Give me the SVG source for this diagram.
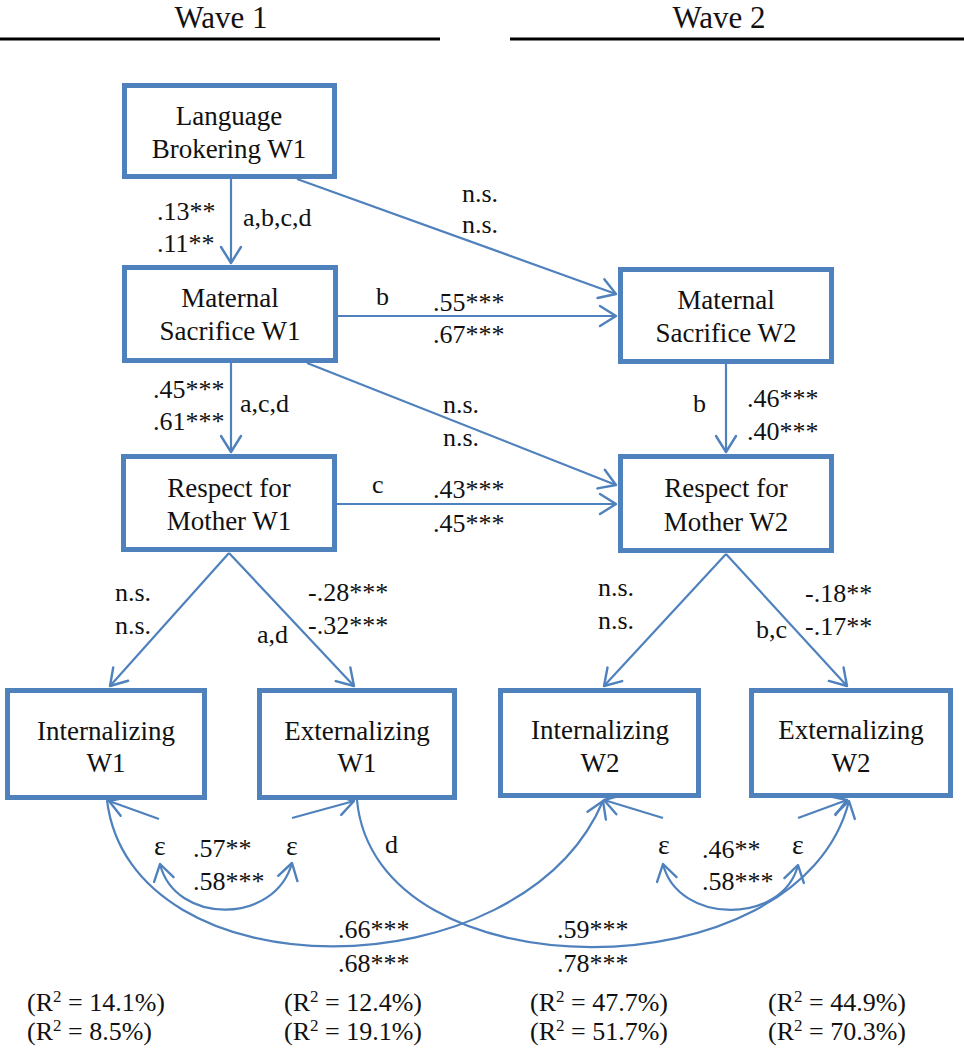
<svg xmlns="http://www.w3.org/2000/svg" width="964" height="1050" viewBox="0 0 964 1050">
<defs>
<marker id="arr" markerUnits="userSpaceOnUse" viewBox="-20 -14 24 28" markerWidth="24" markerHeight="28" refX="0" refY="0" orient="auto-start-reverse" overflow="visible">
<path d="M-16,-10 L0,0 L-16,10" fill="none" stroke="#4F81BD" stroke-width="2.4" stroke-linejoin="round" stroke-linecap="round"/>
</marker>
</defs>
<rect width="964" height="1050" fill="#fff"/>
<g id="header" fill="#111" text-anchor="middle">
<text x="221" y="28" font-size="31" font-family="Liberation Serif">Wave 1</text>
<text x="719" y="28" font-size="31" font-family="Liberation Serif">Wave 2</text>
<line x1="0" y1="39" x2="440" y2="39" stroke="#000" stroke-width="3"/>
<line x1="510" y1="39" x2="964" y2="39" stroke="#000" stroke-width="3"/>
</g>
<g id="connectors" fill="none" stroke="#4F81BD" stroke-width="2.2" marker-end="url(#arr)">
<path d="M231,179 L231,263"/>
<path d="M297,179 L616,294"/>
<path d="M338,316 L616,316"/>
<path d="M307,363 L616,485"/>
<path d="M231,363 L231,452"/>
<path d="M726,364 L726,452"/>
<path d="M337,504 L616,504"/>
<path d="M229,553 L110,686"/>
<path d="M229,553 L354,686"/>
<path d="M726,554 L604,686"/>
<path d="M726,554 L847,686"/>
<path d="M159,819 L109,801"/>
<path d="M292,818 L354,801"/>
<path d="M663,818 L604,800"/>
<path d="M798,818 L847,800"/>
<path d="M107,800 C130,995 520,995 603,801"/>
<path d="M357,800 C375,996 800,996 849,801"/>
<path d="M160,864 C175,925 275,925 292,863" marker-start="url(#arr)"/>
<path d="M663,864 C678,925 783,925 798,865" marker-start="url(#arr)"/>
</g>
<g id="nodes" fill="#111" text-anchor="middle">
<g id="node-lb">
<rect x="124.5" y="85.5" width="210" height="91" fill="#fff" stroke="#4F81BD" stroke-width="5"/>
<text x="229" y="125" font-size="27" font-family="Liberation Serif">Language</text>
<text x="229" y="158" font-size="27" font-family="Liberation Serif">Brokering W1</text>
</g>
<g id="node-ms1">
<rect x="124.5" y="267.5" width="211" height="93" fill="#fff" stroke="#4F81BD" stroke-width="5"/>
<text x="230" y="307" font-size="27" font-family="Liberation Serif">Maternal</text>
<text x="230" y="340" font-size="27" font-family="Liberation Serif">Sacrifice W1</text>
</g>
<g id="node-rm1">
<rect x="123.5" y="456.5" width="211" height="93" fill="#fff" stroke="#4F81BD" stroke-width="5"/>
<text x="229" y="497" font-size="27" font-family="Liberation Serif">Respect for</text>
<text x="229" y="530" font-size="27" font-family="Liberation Serif">Mother W1</text>
</g>
<g id="node-ms2">
<rect x="620.5" y="269.5" width="211" height="92" fill="#fff" stroke="#4F81BD" stroke-width="5"/>
<text x="726" y="309" font-size="27" font-family="Liberation Serif">Maternal</text>
<text x="726" y="342" font-size="27" font-family="Liberation Serif">Sacrifice W2</text>
</g>
<g id="node-rm2">
<rect x="620.5" y="456.5" width="211" height="94" fill="#fff" stroke="#4F81BD" stroke-width="5"/>
<text x="726" y="497" font-size="27" font-family="Liberation Serif">Respect for</text>
<text x="726" y="531" font-size="27" font-family="Liberation Serif">Mother W2</text>
</g>
<g id="node-i1">
<rect x="7.5" y="690.5" width="197" height="107" fill="#fff" stroke="#4F81BD" stroke-width="5"/>
<text x="106" y="740" font-size="27" font-family="Liberation Serif">Internalizing</text>
<text x="106" y="772" font-size="27" font-family="Liberation Serif">W1</text>
</g>
<g id="node-e1">
<rect x="259.5" y="690.5" width="195" height="107" fill="#fff" stroke="#4F81BD" stroke-width="5"/>
<text x="357" y="740" font-size="27" font-family="Liberation Serif">Externalizing</text>
<text x="357" y="772" font-size="27" font-family="Liberation Serif">W1</text>
</g>
<g id="node-i2">
<rect x="500.5" y="690.5" width="198" height="105" fill="#fff" stroke="#4F81BD" stroke-width="5"/>
<text x="600" y="739" font-size="27" font-family="Liberation Serif">Internalizing</text>
<text x="600" y="772" font-size="27" font-family="Liberation Serif">W2</text>
</g>
<g id="node-e2">
<rect x="751.5" y="690.5" width="199" height="105" fill="#fff" stroke="#4F81BD" stroke-width="5"/>
<text x="851" y="739" font-size="27" font-family="Liberation Serif">Externalizing</text>
<text x="851" y="772" font-size="27" font-family="Liberation Serif">W2</text>
</g>
</g>
<g id="labels" fill="#111">
<text x="157" y="220" font-size="26" font-family="Liberation Serif">.13**</text>
<text x="157" y="252" font-size="26" font-family="Liberation Serif">.11**</text>
<text x="243" y="226" font-size="26" font-family="Liberation Serif">a,b,c,d</text>
<text x="462" y="202" font-size="26" font-family="Liberation Serif">n.s.</text>
<text x="462" y="233" font-size="26" font-family="Liberation Serif">n.s.</text>
<text x="376" y="305" font-size="26" font-family="Liberation Serif">b</text>
<text x="433" y="311" font-size="26" font-family="Liberation Serif">.55***</text>
<text x="433" y="343" font-size="26" font-family="Liberation Serif">.67***</text>
<text x="153" y="398" font-size="26" font-family="Liberation Serif">.45***</text>
<text x="153" y="430" font-size="26" font-family="Liberation Serif">.61***</text>
<text x="240" y="412" font-size="26" font-family="Liberation Serif">a,c,d</text>
<text x="443" y="413" font-size="26" font-family="Liberation Serif">n.s.</text>
<text x="443" y="446" font-size="26" font-family="Liberation Serif">n.s.</text>
<text x="693" y="412" font-size="26" font-family="Liberation Serif">b</text>
<text x="747" y="407" font-size="26" font-family="Liberation Serif">.46***</text>
<text x="747" y="440" font-size="26" font-family="Liberation Serif">.40***</text>
<text x="372" y="493" font-size="26" font-family="Liberation Serif">c</text>
<text x="433" y="498" font-size="26" font-family="Liberation Serif">.43***</text>
<text x="433" y="532" font-size="26" font-family="Liberation Serif">.45***</text>
<text x="115" y="601" font-size="26" font-family="Liberation Serif">n.s.</text>
<text x="115" y="634" font-size="26" font-family="Liberation Serif">n.s.</text>
<text x="308" y="601" font-size="26" font-family="Liberation Serif">-.28***</text>
<text x="308" y="634" font-size="26" font-family="Liberation Serif">-.32***</text>
<text x="257" y="643" font-size="26" font-family="Liberation Serif">a,d</text>
<text x="598" y="596" font-size="26" font-family="Liberation Serif">n.s.</text>
<text x="598" y="629" font-size="26" font-family="Liberation Serif">n.s.</text>
<text x="805" y="602" font-size="26" font-family="Liberation Serif">-.18**</text>
<text x="805" y="635" font-size="26" font-family="Liberation Serif">-.17**</text>
<text x="756" y="638" font-size="26" font-family="Liberation Serif">b,c</text>
<text x="160" y="855" font-size="28" text-anchor="middle" font-family="Liberation Serif">&#949;</text>
<text x="292" y="855" font-size="28" text-anchor="middle" font-family="Liberation Serif">&#949;</text>
<text x="664" y="854" font-size="28" text-anchor="middle" font-family="Liberation Serif">&#949;</text>
<text x="798" y="854" font-size="28" text-anchor="middle" font-family="Liberation Serif">&#949;</text>
<text x="193" y="857" font-size="26" font-family="Liberation Serif">.57**</text>
<text x="193" y="890" font-size="26" font-family="Liberation Serif">.58***</text>
<text x="385" y="853" font-size="26" font-family="Liberation Serif">d</text>
<text x="702" y="858" font-size="26" font-family="Liberation Serif">.46**</text>
<text x="702" y="890" font-size="26" font-family="Liberation Serif">.58***</text>
<text x="338" y="938" font-size="26" font-family="Liberation Serif">.66***</text>
<text x="338" y="972" font-size="26" font-family="Liberation Serif">.68***</text>
<text x="557" y="938" font-size="26" font-family="Liberation Serif">.59***</text>
<text x="557" y="972" font-size="26" font-family="Liberation Serif">.78***</text>
</g>
<g id="r2" fill="#111">
<text x="27" y="1011" font-size="26" font-family="Liberation Serif">(R<tspan dy="-9" font-size="17">2</tspan><tspan dy="9"> = 14.1%)</tspan></text>
<text x="27" y="1040" font-size="26" font-family="Liberation Serif">(R<tspan dy="-9" font-size="17">2</tspan><tspan dy="9"> = 8.5%)</tspan></text>
<text x="284" y="1011" font-size="26" font-family="Liberation Serif">(R<tspan dy="-9" font-size="17">2</tspan><tspan dy="9"> = 12.4%)</tspan></text>
<text x="284" y="1040" font-size="26" font-family="Liberation Serif">(R<tspan dy="-9" font-size="17">2</tspan><tspan dy="9"> = 19.1%)</tspan></text>
<text x="530" y="1011" font-size="26" font-family="Liberation Serif">(R<tspan dy="-9" font-size="17">2</tspan><tspan dy="9"> = 47.7%)</tspan></text>
<text x="530" y="1040" font-size="26" font-family="Liberation Serif">(R<tspan dy="-9" font-size="17">2</tspan><tspan dy="9"> = 51.7%)</tspan></text>
<text x="768" y="1011" font-size="26" font-family="Liberation Serif">(R<tspan dy="-9" font-size="17">2</tspan><tspan dy="9"> = 44.9%)</tspan></text>
<text x="768" y="1040" font-size="26" font-family="Liberation Serif">(R<tspan dy="-9" font-size="17">2</tspan><tspan dy="9"> = 70.3%)</tspan></text>
</g>
</svg>
